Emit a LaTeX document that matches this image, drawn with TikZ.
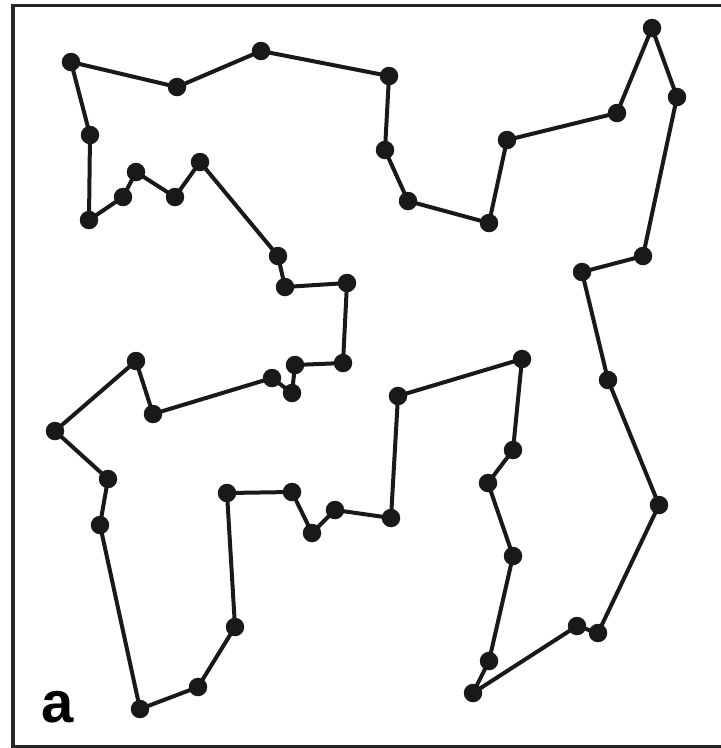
\documentclass[tikz,border=0pt]{standalone}
\usepackage{fontspec}
\setmainfont{Liberation Sans}
\begin{document}
\begin{tikzpicture}[x=1pt,y=-1pt,
  pt/.style={circle,fill=black!90,inner sep=0pt,minimum size=18.5pt},
  tour/.style={line width=4pt,black!90,line join=round}]
\useasboundingbox (0,0) rectangle (721,748);
\draw[line width=3.5pt,black!85] (722,5.5) -- (13,5.5) -- (13,746.5) -- (722,746.5);
\foreach \n/\x/\y in {
 1/71/62, 2/177/87, 3/261/51, 4/389/76, 5/385/150, 6/408/201, 7/489/223,
 8/507/140, 9/617/113, 10/652/28, 11/677/97, 12/643/256, 13/582/272,
 14/608/380, 15/659/505, 16/598/633, 17/577/626, 18/473/693, 19/489/661,
 20/513/556, 21/488/483, 22/513/450, 23/522/359, 24/398/396, 25/391/518,
 26/335/510, 27/312/533, 28/292/492, 29/227/493, 30/235/627, 31/198/687,
 32/140/709, 33/100/525, 34/108/479, 35/55/431, 36/136/361, 37/153/414,
 38/272/378, 39/292/393, 40/295/365, 41/343/363, 42/347/283, 43/285/287,
 44/278/256, 45/200/162, 46/175/197, 47/136/172, 48/123/197, 49/89/220,
 50/90/135}
 \node[pt] (p\n) at (\x,\y) {};
\draw[tour] (p1.center)
 \foreach \n in {2,...,50} { -- (p\n.center) } -- cycle;
\node[anchor=base west,inner sep=0pt,font=\bfseries\fontsize{58}{58}\selectfont] (lab) at (41,722) {a};
\end{tikzpicture}
\end{document}
